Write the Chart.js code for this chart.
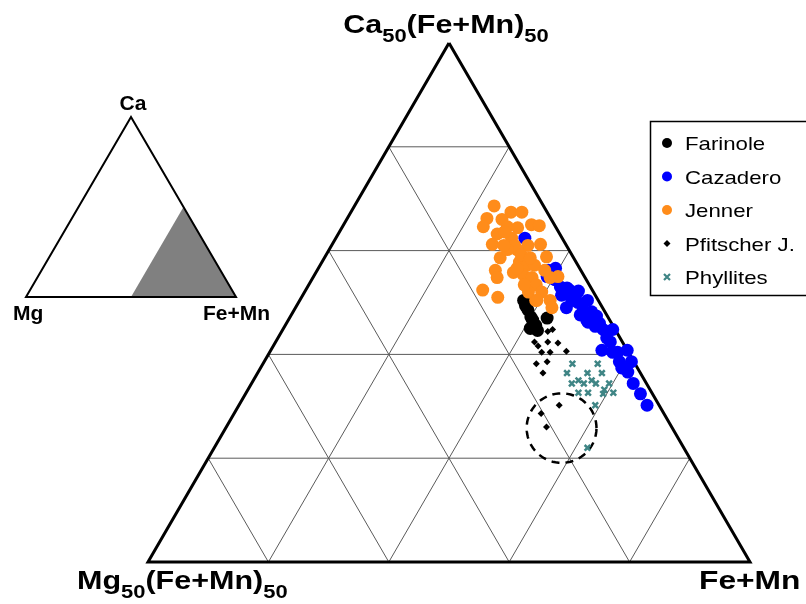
<!DOCTYPE html>
<html><head><meta charset="utf-8">
<script src="https://cdn.jsdelivr.net/npm/chart.js@4/dist/chart.umd.min.js"></script>
<style>html,body{margin:0;padding:0;background:#fff}#wrap{width:806px;height:604px;position:relative}</style>
</head><body><div id="wrap"><canvas id="c" width="806" height="604"></canvas></div>
<script>
// Compositions in mol% of the whole Ca–Mg–(Fe+Mn) system (sub-triangle Ca50(Fe+Mn)50 – Mg50(Fe+Mn)50 – Fe+Mn)
const seriesNames = ['Farinole', 'Cazadero', 'Jenner', 'Pfitscher J.', 'Phyllites'];

const farinoleCa = [25.2, 24.3, 23.6, 22.5, 22.8, 22.3, 23.5, 23.3, 24.7];
const farinoleMg = [6.2, 6.3, 6.4, 7.0, 6.4, 6.5, 5.1, 6.4, 6.3];

const cazaderoCa = [31.2, 28.1, 28.3, 27.5, 26.5, 26.4, 26.2, 26.1, 25.2, 25.2, 24.5, 25.0, 24.3, 24.1, 23.3, 23.7, 23.0, 23.1, 22.4, 22.4, 21.6, 21.2, 20.4, 20.2, 20.2, 20.4, 19.3, 19.3, 18.3, 17.2, 16.2, 15.1, 27.2, 25.7, 25.6, 22.7, 18.7, 23.8];
const cazaderoMg = [3.1, 2.7, 2.0, 3.1, 2.5, 2.0, 1.9, 1.2, 2.2, 0.9, 3.0, 1.8, 1.7, 1.1, 1.9, 0.9, 1.0, 1.9, 1.0, 0.2, 1.1, 1.0, 2.1, 1.3, 0.9, 0.0, 1.2, 0.2, 1.0, 1.1, 1.0, 1.0, 2.6, 2.8, 1.7, 1.5, 1.3, 2.2];

const jennerCa = [34.3, 33.1, 32.3, 33.7, 33.7, 33.0, 32.3, 32.5, 32.4, 31.6, 30.6, 31.2, 30.5, 30.6, 30.1, 29.3, 29.4, 28.1, 27.4, 28.9, 28.6, 28.6, 27.9, 27.7, 27.4, 26.7, 26.2, 25.5, 26.0, 25.2, 25.2, 27.5, 27.4, 26.0, 24.5, 31.8, 30.5, 30.1, 29.6, 29.3, 28.3, 26.7, 28.1, 25.2, 32.2, 30.5];
const jennerMg = [4.1, 5.3, 6.0, 3.0, 2.1, 4.1, 4.0, 1.9, 1.3, 5.2, 6.1, 4.2, 3.2, 2.1, 4.3, 6.1, 2.2, 7.1, 7.3, 4.7, 4.2, 3.6, 5.7, 5.0, 4.4, 4.4, 9.1, 8.2, 5.4, 5.2, 4.0, 2.2, 2.9, 4.3, 4.2, 4.5, 4.3, 5.1, 4.2, 3.6, 5.2, 5.4, 3.0, 5.1, 3.2, 5.2];

const pfitscherCa = [21.2, 20.8, 20.2, 21.2, 20.2, 21.1, 20.3, 22.4, 19.1, 19.3, 18.2, 15.1, 14.3, 13.0, 22.2];
const pfitscherMg = [7.3, 7.2, 7.2, 6.2, 6.5, 5.4, 5.1, 5.2, 8.2, 7.2, 8.1, 8.3, 10.2, 10.4, 5.7];

const phylliteCa = [19.1, 19.1, 18.2, 18.2, 18.2, 17.2, 17.2, 17.2, 17.2, 16.3, 16.3, 16.2, 16.3, 15.1, 11.0, 17.5, 17.5, 16.6];
const phylliteMg = [5.2, 3.1, 6.1, 4.4, 3.2, 6.2, 5.2, 4.2, 3.1, 6.1, 5.3, 4.1, 3.2, 5.3, 8.0, 5.5, 4.4, 3.8];

// grid divisions of the sub-triangle (fractions of each edge)
const gridTicks = [0.2, 0.4, 0.6, 0.8];
// dashed ellipse around the low-Ca Pfitscher group: centre (Ca, Mg) and radius (axis units)
const ellipseCentre = [12.9, 9.2];
const ellipseRadius = 0.058;

const H = Math.sqrt(3) / 2;
// local ternary: t = top weight (Ca50(Fe+Mn)50), l = left weight (Mg50(Fe+Mn)50)
function tl(t, l) { return { x: 1 - l - t / 2, y: t * H }; }
function comp(ca, mg) { return tl(ca / 50, mg / 50); }
function pts(ca, mg) { return ca.map((v, i) => comp(v, mg[i])); }

const gridSets = [];
gridTicks.forEach(k => {
  gridSets.push([tl(k, 1 - k), tl(k, 0)]);
  gridSets.push([tl(0, k), tl(1 - k, k)]);
  gridSets.push([tl(0, 1 - k), tl(1 - k, 0)]);
});

const ec = comp(ellipseCentre[0], ellipseCentre[1]);
const ellipsePts = [];
for (let i = 0; i <= 72; i++) {
  const a = i / 72 * Math.PI * 2;
  ellipsePts.push({ x: ec.x + ellipseRadius * Math.cos(a), y: ec.y + ellipseRadius * Math.sin(a) });
}

const datasets = [];
gridSets.forEach(g => datasets.push({
  data: g, showLine: true, borderColor: '#5a5a5a', borderWidth: 1, pointRadius: 0, order: 20, clip: false, isAux: true
}));
datasets.push({
  data: [tl(1, 0), tl(0, 1), tl(0, 0), tl(1, 0)], showLine: true, borderColor: '#000', borderWidth: 3,
  pointRadius: 0, order: 10, clip: false, isAux: true, borderJoinStyle: 'miter'
});
datasets.push({
  data: ellipsePts, showLine: true, borderColor: '#000', borderWidth: 2.5, borderDash: [8, 6],
  pointRadius: 0, order: 9, clip: false, isAux: true
});
const colors = ['#000000', '#0000ff', '#ff8c1a', '#000000', '#3f8585'];
datasets.push({ label: seriesNames[4], data: pts(phylliteCa, phylliteMg), pointStyle: 'crossRot', pointRadius: 4, borderWidth: 2.5,
  borderColor: colors[4], backgroundColor: colors[4], order: 6, clip: false });
datasets.push({ label: seriesNames[3], data: pts(pfitscherCa, pfitscherMg), pointStyle: 'rectRot', pointRadius: 3.5, borderWidth: 0,
  borderColor: colors[3], backgroundColor: colors[3], order: 5, clip: false });
datasets.push({ label: seriesNames[0], data: pts(farinoleCa, farinoleMg), pointStyle: 'circle', pointRadius: 6.5, borderWidth: 0,
  borderColor: colors[0], backgroundColor: colors[0], order: 4, clip: false });
datasets.push({ label: seriesNames[1], data: pts(cazaderoCa, cazaderoMg), pointStyle: 'circle', pointRadius: 6.5, borderWidth: 0,
  borderColor: colors[1], backgroundColor: colors[1], order: 3, clip: false });
datasets.push({ label: seriesNames[2], data: pts(jennerCa, jennerMg), pointStyle: 'circle', pointRadius: 6.5, borderWidth: 0,
  borderColor: colors[2], backgroundColor: colors[2], order: 2, clip: false });

const FONT = '"Liberation Sans", Arial, sans-serif';
// draws text made of normal and subscript parts, optionally stretched horizontally by sx
function drawSub(ctx, parts, x, y, align, size, subSize, subDy, sx, weight) {
  weight = weight || 'bold';
  const widths = parts.map(p => { ctx.font = weight + ' ' + (p.s ? subSize : size) + 'px ' + FONT; return ctx.measureText(p.t).width; });
  const total = widths.reduce((a, b) => a + b, 0) * sx;
  let x0 = align === 'center' ? x - total / 2 : align === 'right' ? x - total : x;
  ctx.save();
  ctx.translate(x0, y); ctx.scale(sx, 1);
  ctx.textAlign = 'left'; ctx.textBaseline = 'alphabetic'; ctx.fillStyle = '#000';
  let cx = 0;
  parts.forEach((p, i) => {
    ctx.font = weight + ' ' + (p.s ? subSize : size) + 'px ' + FONT;
    ctx.fillText(p.t, cx, p.s ? subDy : 0);
    cx += widths[i];
  });
  ctx.restore();
}

const decor = {
  id: 'decor',
  afterDraw(chart) {
    const ctx = chart.ctx;
    ctx.save();
    // vertex labels
    drawSub(ctx, [{ t: 'Ca' }, { t: '50', s: 1 }, { t: '(Fe+Mn)' }, { t: '50', s: 1 }], 446, 33, 'center', 25, 18, 9, 1.22);
    drawSub(ctx, [{ t: 'Mg' }, { t: '50', s: 1 }, { t: '(Fe+Mn)' }, { t: '50', s: 1 }], 77, 589, 'left', 25, 18, 9, 1.22);
    drawSub(ctx, [{ t: 'Fe+Mn' }], 699, 589, 'left', 25, 18, 9, 1.27);

    // inset triangle
    ctx.beginPath();
    ctx.moveTo(183.5, 207); ctx.lineTo(131, 297); ctx.lineTo(236, 297); ctx.closePath();
    ctx.fillStyle = '#808080'; ctx.fill();
    ctx.beginPath();
    ctx.moveTo(131, 117); ctx.lineTo(26, 297); ctx.lineTo(236, 297); ctx.closePath();
    ctx.lineWidth = 2; ctx.strokeStyle = '#000'; ctx.lineJoin = 'miter'; ctx.stroke();
    drawSub(ctx, [{ t: 'Ca' }], 133, 110, 'center', 20, 14, 0, 1.05);
    drawSub(ctx, [{ t: 'Mg' }], 13, 320, 'left', 20, 14, 0, 1.05);
    drawSub(ctx, [{ t: 'Fe+Mn' }], 270, 320, 'right', 20, 14, 0, 1.05);

    // legend (box runs off the right edge of the picture)
    ctx.lineWidth = 1.5; ctx.strokeStyle = '#000';
    ctx.strokeRect(650.5, 121.5, 170, 174);
    const items = chart.data.datasets.filter(d => d.label);
    const orderL = seriesNames.map(n => items.find(d => d.label === n));
    orderL.forEach((d, i) => {
      const y = 143 + i * 33.5;
      const x = 667;
      ctx.fillStyle = d.backgroundColor; ctx.strokeStyle = d.borderColor;
      if (d.pointStyle === 'circle') {
        ctx.beginPath(); ctx.arc(x, y, 5, 0, Math.PI * 2); ctx.fill();
      } else if (d.pointStyle === 'rectRot') {
        ctx.beginPath(); ctx.moveTo(x, y - 3.5); ctx.lineTo(x + 3.5, y); ctx.lineTo(x, y + 3.5); ctx.lineTo(x - 3.5, y); ctx.closePath(); ctx.fill();
      } else {
        ctx.lineWidth = 2.2; ctx.beginPath();
        ctx.moveTo(x - 3, y - 3); ctx.lineTo(x + 3, y + 3); ctx.moveTo(x + 3, y - 3); ctx.lineTo(x - 3, y + 3); ctx.stroke();
      }
      drawSub(ctx, [{ t: d.label }], 685, y + 7, 'left', 18.5, 14, 0, 1.2, 'normal');
    });
    ctx.restore();
  }
};

new Chart(document.getElementById('c'), {
  type: 'scatter',
  data: { datasets },
  options: {
    responsive: false, animation: false, events: [],
    layout: { padding: { left: 148, right: 56, top: 43, bottom: 42 } },
    scales: {
      x: { type: 'linear', min: 0, max: 1, display: false },
      y: { type: 'linear', min: 0, max: H, display: false }
    },
    plugins: { legend: { display: false }, tooltip: { enabled: false } }
  },
  plugins: [decor]
});
</script></body></html>
